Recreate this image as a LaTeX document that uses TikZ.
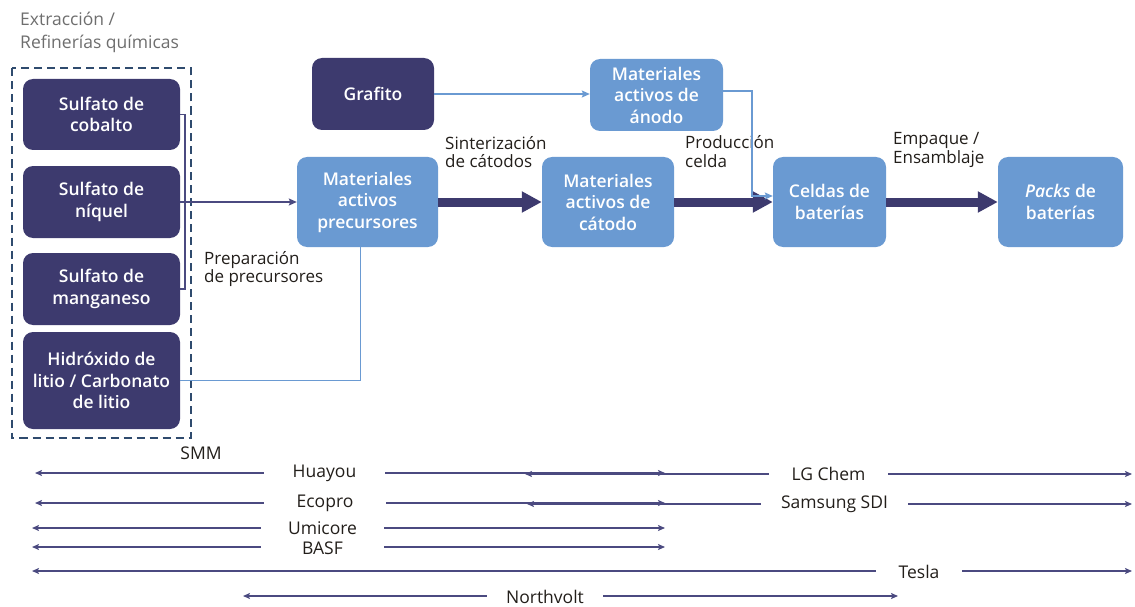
\documentclass[tikz,border=0pt]{standalone}
\usepackage{fontspec}
\IfFontExistsTF{Open Sans SemiBold}
  {\setmainfont{Open Sans}[BoldFont={Open Sans SemiBold}]}
  {\IfFontExistsTF{Open Sans Semibold}
    {\setmainfont{Open Sans}[BoldFont={Open Sans Semibold}]}
    {\setmainfont{Open Sans}}}
\usetikzlibrary{arrows.meta}
\definecolor{navy}{HTML}{3D3A6E}
\definecolor{lblue}{HTML}{6A9AD2}
\definecolor{dashc}{HTML}{2F4B6E}
\definecolor{titlegray}{HTML}{6E6E6E}
\definecolor{linenavy}{HTML}{4B4A80}
\definecolor{txt}{HTML}{221E1A}
\begin{document}
\begin{tikzpicture}[x=1pt,y=-1pt,
  boxbase/.style={rounded corners=10pt, text=white, align=center, inner sep=0pt,
    font=\bfseries\fontsize{17.5}{21.5}\selectfont},
  darkbox/.style={boxbase, fill=navy},
  lightbox/.style={boxbase, fill=lblue},
  steplabel/.style={anchor=west, align=left, inner sep=0pt, text=txt,
    font=\fontsize{17}{18.5}\selectfont},
  firm/.style={inner sep=0pt, text=txt, font=\fontsize{17.5}{18}\selectfont},
  thick arrow/.style={navy, line width=9pt, -{Triangle[length=20pt,width=20pt]}},
  thin navy/.style={linenavy, line width=1.8pt},
  blue line/.style={lblue, line width=1.6pt},
  small tip/.style={-{Stealth[length=8pt,width=7pt,inset=1.5pt]}},
  spanline/.style={linenavy, line width=1.6pt},
  rtip/.style={-{Stealth[length=7pt,width=6pt,inset=1.5pt]}},
  ltip/.style={{Stealth[length=7pt,width=6pt,inset=1.5pt]}-},
]
\useasboundingbox (0,0) rectangle (1135,607);

% title
\node[anchor=west, align=left, inner sep=0pt, text=titlegray,
  font=\fontsize{17.5}{23}\selectfont] (title) at (20,32) {Extracción /\\Refinerías químicas};

% dashed group
\draw[dashc, line width=2pt, dash pattern=on 8pt off 5pt] (11.5,68.5) rectangle (190.5,437.5);

% raw material boxes
\node[darkbox, minimum width=157pt, minimum height=71pt] (cobalto) at (101.5,114.5) {Sulfato de\\cobalto};
\node[darkbox, minimum width=157pt, minimum height=72pt] (niquel) at (101.5,202) {Sulfato de\\níquel};
\node[darkbox, minimum width=157pt, minimum height=72pt] (manganeso) at (101.5,289) {Sulfato de\\manganeso};
\node[darkbox, minimum width=157pt, minimum height=97pt] (hidro) at (101.5,380.5) {Hidróxido de\\litio / Carbonato\\de litio};

\node[darkbox, minimum width=122pt, minimum height=72pt] (grafito) at (373,94) {Grafito};
\node[lightbox, minimum width=133pt, minimum height=72pt] (anodo) at (656.5,95) {Materiales\\activos de\\ánodo};
\node[lightbox, minimum width=141pt, minimum height=90pt] (prec) at (367.5,202) {Materiales\\activos\\precursores};
\node[lightbox, minimum width=132pt, minimum height=90pt] (catodo) at (608,202) {Materiales\\activos de\\cátodo};
\node[lightbox, minimum width=113pt, minimum height=90pt] (celdas) at (829.5,202) {Celdas de\\baterías};
\node[lightbox, minimum width=125pt, minimum height=90pt] (packs) at (1060.5,202) {\textit{Packs} de\\baterías};

% step labels
\node[steplabel] (prep) at (204,269) {Preparación\\de precursores};
\node[steplabel] (sint) at (445,152) {Sinterización\\de cátodos};
\node[steplabel] (prod) at (685,151.5) {Producción\\celda};
\node[steplabel] (emp) at (893,150) {Empaque /\\Ensamblaje};

% connectors
\draw[thin navy] (cobalto.east) -- ++(5,0) |- (manganeso.east);
\draw[thin navy, small tip] (niquel.east) -- (prec.west);
\coordinate (pbot) at (360.5,246.5);
\draw[blue line] (hidro.east) -| (pbot);
\draw[blue line, small tip] (grafito.east) -- (anodo.west |- grafito.east);

\draw[thick arrow] (prec.east) -- (catodo.west);
\draw[thick arrow] (catodo.east) -- (celdas.west);
\draw[thick arrow] (celdas.east) -- (packs.west);
\draw[blue line, small tip] ([yshift=4pt]anodo.east) -- ++(29,0) |- ([yshift=6pt]celdas.west);

% companies
\node[firm] (smm) at (201,453) {SMM};

\node[firm, minimum width=121pt] (huayou) at (324.5,473) {Huayou};
\coordinate (huL) at (35,473); \coordinate (huR) at (665,473);
\draw[spanline, ltip] (huL) -- (huayou);
\draw[spanline, rtip] (huayou) -- (huR);

\node[firm, minimum width=119pt] (lg) at (828.5,474) {LG Chem};
\coordinate (lgL) at (525,474); \coordinate (lgR) at (1132,474);
\draw[spanline, ltip] (lgL) -- (lg);
\draw[spanline, rtip] (lg) -- (lgR);

\node[firm, minimum width=122pt] (ecopro) at (325,503) {Ecopro};
\coordinate (ecL) at (35,503); \coordinate (ecR) at (665,503);
\draw[spanline, ltip] (ecL) -- (ecopro);
\draw[spanline, rtip] (ecopro) -- (ecR);

\node[firm, minimum width=147pt] (samsung) at (834.5,504) {Samsung SDI};
\coordinate (saL) at (527,504); \coordinate (saR) at (1132,504);
\draw[spanline, ltip] (saL) -- (samsung);
\draw[spanline, rtip] (samsung) -- (saR);

\node[firm, minimum width=123pt] (umicore) at (322.5,528) {Umicore};
\coordinate (umL) at (32,528); \coordinate (umR) at (665,528);
\draw[spanline, ltip] (umL) -- (umicore);
\draw[spanline, rtip] (umicore) -- (umR);

\node[firm, minimum width=123pt] (basf) at (322.5,548) {BASF};
\coordinate (baL) at (32,547); \coordinate (baR) at (665,547);
\draw[spanline, ltip] (baL) -- (basf.west |- baL);
\draw[spanline, rtip] (basf.east |- baR) -- (baR);

\node[firm, minimum width=86pt] (tesla) at (919,572) {Tesla};
\coordinate (teL) at (32,571); \coordinate (teR) at (1132,571);
\draw[spanline, ltip] (teL) -- (tesla.west |- teL);
\draw[spanline, rtip] (tesla.east |- teR) -- (teR);

\node[firm, minimum width=116pt] (northvolt) at (545,597) {Northvolt};
\coordinate (noL) at (243,596); \coordinate (noR) at (898,596);
\draw[spanline, ltip] (noL) -- (northvolt.west |- noL);
\draw[spanline, rtip] (northvolt.east |- noR) -- (noR);
\end{tikzpicture}
\end{document}
